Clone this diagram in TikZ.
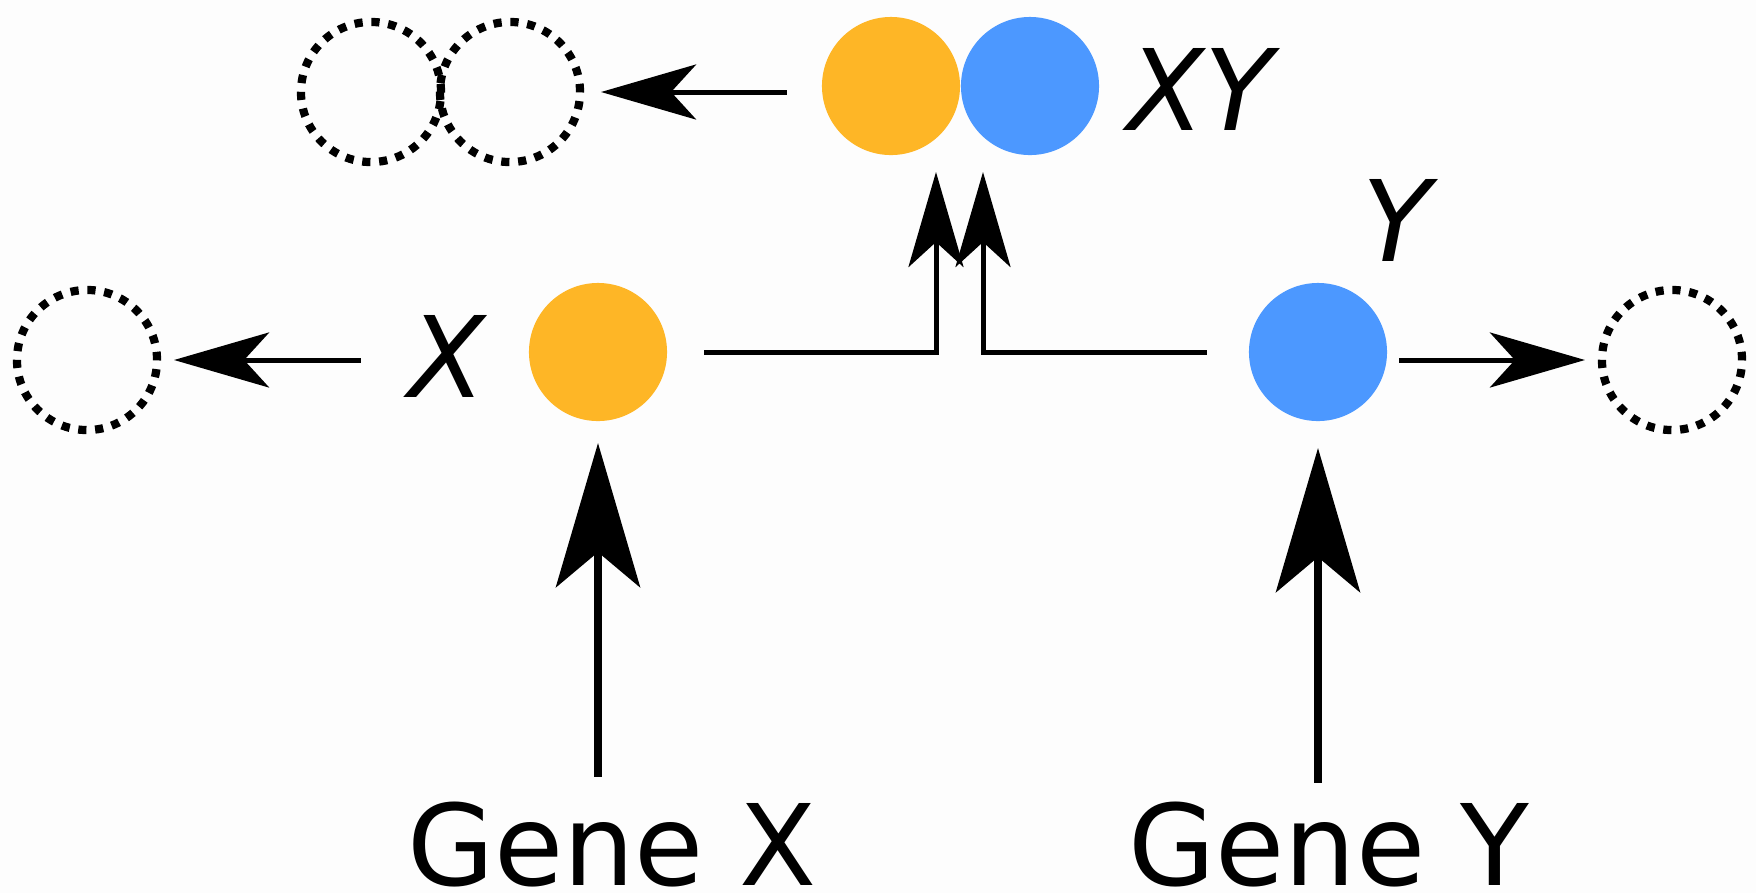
\documentclass[tikz,border=0pt]{standalone}
\usepackage{fontspec}
\setmainfont{DejaVu Sans}
\usetikzlibrary{arrows.meta}
\definecolor{xorange}{RGB}{254,182,38}
\definecolor{yblue}{RGB}{76,152,255}
\definecolor{paper}{RGB}{253,253,253}

\begin{document}
\begin{tikzpicture}[x=.01cm,y=-.01cm,
  prot/.style={circle,inner sep=0pt,outer sep=0pt,minimum size=1.38cm},
  gone/.style={circle,draw,inner sep=0pt,outer sep=0pt,minimum size=1.40cm,
    line width=.082cm,dash pattern=on .082cm off .087cm},
  lbl/.style={font=\fontsize{32}{38}\selectfont,inner sep=0pt,anchor=base},
  decay/.style={line width=.05cm,-{Stealth[length=.95cm,width=.55cm,inset=.25cm]}},
  express/.style={line width=.085cm,-{Stealth[length=1.44cm,width=.84cm,inset=.35cm]}}]
  \fill[paper] (0,0) rectangle (1756,893);
  \node[prot,fill=xorange] (xyx) at (891,86) {};
  \node[prot,fill=yblue] (xyy) at (1030,86) {};
  \node[lbl] (xylbl) at (1200,130) {\itshape XY};
  \node[gone] (dxy1) at (371,92) {};
  \node[gone] (dxy2) at (510,92) {};
  \node[prot,fill=xorange] (x) at (598,352) {};
  \node[lbl] (xlbl) at (447,397) {\itshape X};
  \node[gone] (dx) at (87,360) {};
  \node[prot,fill=yblue] (y) at (1318,352) {};
  \node[lbl] (ylbl) at (1397,261) {\itshape Y};
  \node[gone] (dy) at (1672,360) {};
  \node[lbl] (genex) at (612,885) {Gene X};
  \node[lbl] (geney) at (1329,885) {Gene Y};
  \coordinate (inx) at (936,172);
  \coordinate (iny) at (983,172);
  \draw[decay,shorten <=.35cm,shorten >=.21cm] (xyx.west |- dxy2) -- (dxy2);
  \draw[decay,shorten <=.47cm,shorten >=.17cm] (dx -| xlbl.west) -- (dx);
  \draw[decay,shorten <=.12cm,shorten >=.17cm] (y.east |- dy) -- (dy);
  \draw[decay,shorten <=.37cm] (x.east) -| (inx);
  \draw[decay,shorten <=.42cm] (y.west) -| (iny);
  \draw[express,shorten <=.24cm,shorten >=.22cm] (x |- genex.north) -- (x);
  \draw[express,shorten <=.18cm,shorten >=.27cm] (y |- geney.north) -- (y);
\end{tikzpicture}
\end{document}
